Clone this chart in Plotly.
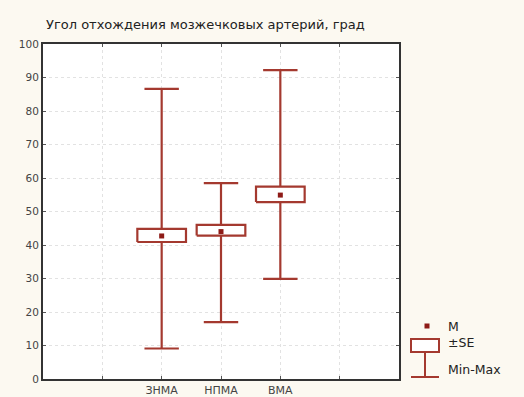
import plotly.graph_objects as go

# Angle of origin of cerebellar arteries, degrees
groups = ["ЗНМА", "НПМА", "ВМА"]
group_pos = [2, 3, 4]
mean_vals = [42.7, 44.0, 54.9]
se_low = [40.9, 42.8, 52.8]
se_high = [44.8, 46.0, 57.4]
min_vals = [9.1, 17.0, 29.9]
max_vals = [86.6, 58.5, 92.2]

y_ticks = [0, 10, 20, 30, 40, 50, 60, 70, 80, 90, 100]
x_ticks = [1, 2, 3, 4, 5]
x_ticktext = ["", "ЗНМА", "НПМА", "ВМА", ""]

RED = "#a4392f"
DARK = "#8e1b17"
BG = "#fcf9f1"
FONT = "DejaVu Sans, Liberation Sans, Arial"
BOX_HALF = 0.41
CAP_HALF = 0.29

fig = go.Figure()

for x, lo, hi, mn, mx, m in zip(group_pos, se_low, se_high, min_vals, max_vals, mean_vals):
    # whisker below and above the SE box, with caps
    fig.add_trace(go.Scatter(
        x=[x, x, None, x, x, None, x - CAP_HALF, x + CAP_HALF, None, x - CAP_HALF, x + CAP_HALF],
        y=[mn, lo, None, hi, mx, None, mn, mn, None, mx, mx],
        mode="lines", line=dict(color=RED, width=2.2), showlegend=False, hoverinfo="skip"))
    # ±SE box
    fig.add_trace(go.Scatter(
        x=[x - BOX_HALF, x + BOX_HALF, x + BOX_HALF, x - BOX_HALF, x - BOX_HALF],
        y=[lo, lo, hi, hi, lo],
        mode="lines", fill="toself", fillcolor="white",
        line=dict(color=RED, width=2.2), showlegend=False, hoverinfo="skip"))

# means
fig.add_trace(go.Scatter(
    x=group_pos, y=mean_vals, mode="markers",
    marker=dict(symbol="square", size=5, color=DARK),
    showlegend=False))

# legend key drawn in paper coordinates (plot spans x 43..399 px, y 44..379 px)
def px(xp):
    return (xp - 43) / 356

def py(yp):
    return (379 - yp) / 335

shapes = [
    dict(type="rect", xref="paper", yref="paper", x0=px(424.5), x1=px(429.5),
         y0=py(328.5), y1=py(323.5), fillcolor=DARK, line=dict(width=0)),
    dict(type="rect", xref="paper", yref="paper", x0=px(411), x1=px(439),
         y0=py(352), y1=py(339), fillcolor="white", line=dict(color=RED, width=2)),
    dict(type="line", xref="paper", yref="paper", x0=px(425), x1=px(425),
         y0=py(352), y1=py(377), line=dict(color=RED, width=2)),
    dict(type="line", xref="paper", yref="paper", x0=px(411), x1=px(439),
         y0=py(377), y1=py(377), line=dict(color=RED, width=2)),
]
annotations = [
    dict(text="M", x=px(446), y=py(326)),
    dict(text="±SE", x=px(446), y=py(342)),
    dict(text="Min-Max", x=px(446), y=py(369)),
]
for a in annotations:
    a.update(xref="paper", yref="paper", xanchor="left", yanchor="middle",
             showarrow=False, font=dict(size=12.5, color="#222", family=FONT))

annotations.append(dict(
    text="Угол отхождения мозжечковых артерий, град", xref="paper", yref="paper",
    x=px(44), y=py(24), xanchor="left", yanchor="middle", showarrow=False,
    font=dict(size=13, color="#222", family=FONT)))

axis_common = dict(
    showgrid=True, gridcolor="#e2e2e2", griddash="dot", gridwidth=1,
    zeroline=False, showline=True, mirror="ticks", linecolor="#333", linewidth=2,
    ticks="inside", ticklen=3, tickcolor="#555", automargin=False,
    tickfont=dict(size=10.5, color="#444", family=FONT))

fig.update_layout(
    width=524, height=397,
    margin=dict(l=43, r=125, t=44, b=18),
    paper_bgcolor=BG, plot_bgcolor="white",
    shapes=shapes, annotations=annotations,
    font=dict(family=FONT, size=10, color="#333"),
    xaxis=dict(range=[0, 6], tickvals=x_ticks, ticktext=x_ticktext, **axis_common),
    yaxis=dict(range=[0, 100], tickvals=y_ticks, **axis_common),
)
fig.update_xaxes(tickfont=dict(size=11))

fig.write_html("out.html")
